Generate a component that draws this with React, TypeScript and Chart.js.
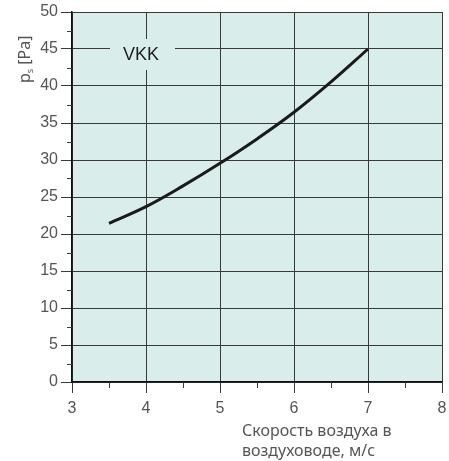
import React, { useEffect, useRef } from "react";
import { Chart, registerables } from "chart.js";

Chart.register(...registerables);

const velocities = [3.5, 4, 4.5, 5, 5.5, 6, 6.5, 7];
const pressures = [21.45, 23.7, 26.5, 29.55, 32.85, 36.45, 40.55, 45.0];
const seriesLabel = "VKK";
const yTitleMain = "p";
const yTitleSub = "s";
const yTitleUnit = " [Pa]";
const xTitleLines = ["Скорость воздуха в", "воздуховоде, м/с"];
const xMinorTicks = [3.5, 4.5, 5.5, 6.5, 7.5];
const yMinorTicks = [2.5, 7.5, 12.5, 17.5, 22.5, 27.5, 32.5, 37.5, 42.5, 47.5];

const BG = "rgb(217,237,235)";
const GRID = "#3a3a3a";
const TEXT = "#555555";

const decorPlugin = {
  id: "decor",
  beforeDraw(chart: any) {
    const { ctx, chartArea: a } = chart;
    ctx.save();
    ctx.fillStyle = BG;
    ctx.fillRect(a.left, a.top, a.right - a.left, a.bottom - a.top);
    ctx.restore();
  },
  beforeDatasetsDraw(chart: any) {
    const { ctx } = chart;
    const xs = chart.scales.x;
    const ys = chart.scales.y;
    ctx.save();
    ctx.strokeStyle = GRID;
    ctx.lineWidth = 1;
    ctx.beginPath();
    for (const v of xMinorTicks) {
      const px = Math.round(xs.getPixelForValue(v)) + 0.5;
      ctx.moveTo(px, ys.bottom);
      ctx.lineTo(px, ys.bottom + 6);
    }
    for (const v of yMinorTicks) {
      const py = Math.round(ys.getPixelForValue(v)) + 0.5;
      ctx.moveTo(xs.left, py);
      ctx.lineTo(xs.left - 5, py);
    }
    ctx.stroke();
    const cx = xs.getPixelForValue(4) - 5;
    const cy = ys.getPixelForValue(45) + 6;
    ctx.fillStyle = BG;
    ctx.fillRect(cx - 31, cy - 16, 65, 31);
    ctx.fillStyle = "#1e1e1e";
    ctx.font = "18px 'Liberation Sans', Arial, sans-serif";
    ctx.textAlign = "center";
    ctx.textBaseline = "middle";
    ctx.fillText(seriesLabel, cx, cy);
    ctx.restore();
  },
  afterDraw(chart: any) {
    const { ctx } = chart;
    ctx.save();
    ctx.fillStyle = TEXT;
    ctx.font = "16px 'Noto Sans', sans-serif";
    ctx.textAlign = "left";
    ctx.textBaseline = "alphabetic";
    ctx.fillText(xTitleLines[0], 242, 436);
    ctx.fillText(xTitleLines[1], 242, 456);
    ctx.translate(30, 83);
    ctx.rotate(-Math.PI / 2);
    ctx.font = "16px 'Noto Sans', sans-serif";
    ctx.fillText(yTitleMain, 0, 0);
    let w = ctx.measureText(yTitleMain).width;
    ctx.font = "9px 'Noto Sans', sans-serif";
    ctx.fillText(yTitleSub, w, 3);
    w += ctx.measureText(yTitleSub).width;
    ctx.font = "16px 'Noto Sans', sans-serif";
    ctx.fillText(yTitleUnit, w, 0);
    ctx.restore();
  },
};

export default function App() {
  const ref = useRef<HTMLCanvasElement>(null);
  useEffect(() => {
    if (!ref.current) return;
    const chart = new Chart(ref.current, {
      type: "line",
      data: {
        datasets: [
          {
            label: seriesLabel,
            data: velocities.map((v, i) => ({ x: v, y: pressures[i] })),
            borderColor: "#1a1a1a",
            borderWidth: 3,
            pointRadius: 0,
            tension: 0.4,
            fill: false,
          },
        ],
      },
      options: {
        animation: false,
        responsive: true,
        maintainAspectRatio: false,
        layout: { padding: { left: 0, right: 7, top: 12, bottom: 0 } },
        plugins: { legend: { display: false }, tooltip: { enabled: false } },
        scales: {
          x: {
            type: "linear",
            min: 3,
            max: 8,
            ticks: {
              stepSize: 1,
              color: TEXT,
              padding: 6,
              font: { family: "'Liberation Sans', Arial, sans-serif", size: 16 },
            },
            grid: { color: GRID, lineWidth: 1, tickLength: 11, tickColor: GRID },
            border: { color: "#111", width: 1.5 },
            afterFit: (s: any) => {
              s.height = 79;
              s.paddingLeft = 0;
              s.paddingRight = 0;
            },
          },
          y: {
            min: 0,
            max: 50,
            ticks: {
              stepSize: 5,
              color: TEXT,
              padding: 3,
              font: { family: "'Liberation Sans', Arial, sans-serif", size: 16 },
            },
            grid: { color: GRID, lineWidth: 1, tickLength: 11, tickColor: GRID },
            border: { color: "#111", width: 1.5 },
            afterFit: (s: any) => {
              s.width = 72;
              s.paddingTop = 0;
              s.paddingBottom = 0;
            },
          },
        },
      },
      plugins: [decorPlugin],
    });
    return () => chart.destroy();
  }, []);
  return (
    <div style={{ position: "fixed", left: 0, top: 0, width: 449, height: 461, background: "#fff" }}>
      <canvas ref={ref} />
    </div>
  );
}
